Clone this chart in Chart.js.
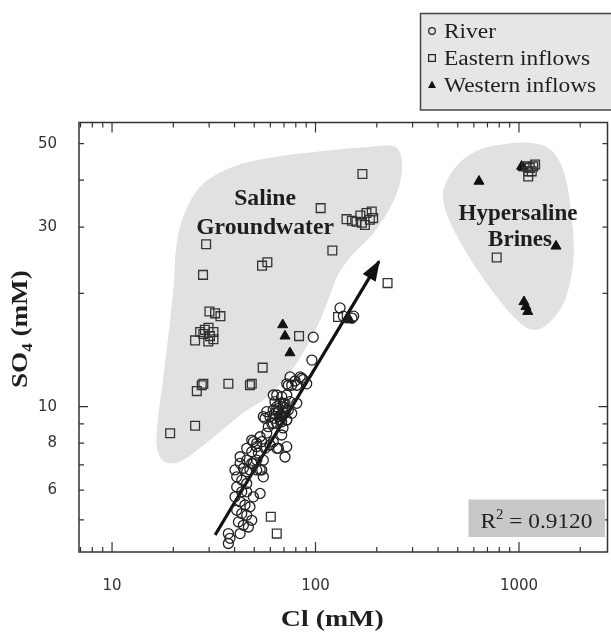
<!DOCTYPE html>
<html>
<head>
<meta charset="utf-8">
<script src="https://cdn.jsdelivr.net/npm/chart.js@4.4.1/dist/chart.umd.min.js"></script>
<style>
  html, body { margin: 0; padding: 0; background: #fff; }
</style>
</head>
<body>
<canvas id="chart" width="611" height="633"></canvas>
<script>
// River samples (Cl mM, SO4 mM)
var riverCl = [132, 137, 151, 154, 97.5, 96,
  75, 79.3, 84, 87, 73.5, 76.4, 80.9, 72.2, 85.5, 90.5,
  64.5, 68.2, 72.2, 63.2, 66.9, 70.8, 74.9, 59.7, 63.2, 66.9, 70.8, 73.5, 62.0, 65.7, 69.5,
  56.5, 60.9, 64.5, 68.2, 72.2, 58.6, 69.2, 66, 68, 71, 63, 67,
  64.5, 69.5, 76.4, 72.2, 62.0, 80.9, 55.4, 57.6, 62.0,
  57.6, 54.4, 51.4, 49.5, 48.6, 52.4, 56.5, 59.7, 62.0, 64.5,
  70.8, 65.7, 72.2, 68.2, 48.6, 51.4, 53.4, 45.9,
  42.6, 45.9, 48.6, 51.4, 54.4, 44.2, 47.6, 51.4, 55.4,
  42.6, 49.5, 55.4, 40.2, 45.9, 53.4,
  41.0, 43.4, 45.9, 41.0, 43.4, 45.9, 49.5, 53.4,
  40.2, 42.6, 45.0, 47.6, 41.0, 43.4, 45.9, 48.6, 41.8, 44.2, 46.8,
  37.3, 42.6, 37.3, 38.0];
var riverSO4 = [18.3, 17.4, 17.2, 17.4, 15.3, 13.3,
  12.0, 11.7, 12.0, 11.8, 11.4, 11.4, 11.4, 11.5, 11.9, 11.5,
  10.74, 10.63, 10.74, 10.31, 10.21, 10.21, 10.31, 9.41, 9.31, 9.41, 9.60, 9.80, 9.80, 9.70, 10.0,
  9.31, 9.03, 9.03, 9.12, 9.22, 8.85, 8.78, 9.9, 9.5, 9.95, 9.6, 9.2,
  10.0, 10.21, 9.60, 9.22, 9.03, 10.21, 9.41, 9.70, 10.74,
  8.51, 8.07, 7.83, 8.07, 7.59, 7.52, 7.75, 7.91, 8.07, 7.75,
  7.35, 7.75, 7.83, 8.41, 8.15, 7.99, 8.32, 7.75,
  7.36, 7.21, 7.07, 7.21, 6.79, 6.86, 6.79, 6.79, 6.51,
  7.07, 7.07, 7.21, 6.79, 6.72, 6.79,
  6.51, 6.38, 6.25, 6.12, 5.94, 5.94, 5.76, 5.88,
  5.76, 5.59, 5.48, 5.42, 5.31, 5.20, 5.15, 4.99, 4.94, 4.84, 4.79,
  4.60, 4.60, 4.33, 4.47];

// Eastern inflows
var easternCl = [170, 106, 142, 151, 159, 169, 175, 178, 189, 192, 185, 166, 121, 29, 28, 54.6, 58, 226,
  30.1, 32.1, 34.1, 25.6, 27.1, 28.6, 29.8, 31.5, 29.7, 31.5, 28.1, 30.3,
  83, 55, 129,
  26.1, 27.6, 28.1, 37.3, 47.6, 48.6,
  25.6, 19.3, 60.3, 64.5,
  1090, 1130, 1175, 1110, 1155, 1110, 1200, 777];
var easternSO4 = [41.5, 33.7, 31.5, 31.2, 31.0, 30.8, 30.4, 32.7, 33.0, 31.7, 31.4, 32.2, 26.0, 27.0, 22.4, 23.7, 24.2, 21.3,
  17.9, 17.7, 17.4, 15.0, 15.8, 16.0, 16.2, 15.8, 14.9, 15.1, 15.6, 15.4,
  15.4, 12.7, 17.3,
  11.0, 11.4, 11.5, 11.5, 11.4, 11.5,
  8.9, 8.5, 5.1, 4.6,
  43.5, 43.1, 43.5, 42.2, 42.2, 40.9, 44.0, 24.9];

// Western inflows
var westernCl = [69, 70.8, 74.9, 636, 1030, 1050, 1520, 1058, 1082, 1104, 147, 67];
var westernSO4 = [16.5, 15.4, 13.9, 39.7, 43.5, 43.1, 26.7, 19.0, 18.45, 17.9, 17.0, 9.45];

// trend arrow
var trendCl = [32.1, 205];
var trendSO4 = [4.56, 24.3];

// shaded fields
var salineCl = [27.1, 39.3, 64.7, 101.7, 165.5, 232.3, 260.1, 266.1, 254.3, 227.1, 189.5, 151.1, 129.0, 117.8,
  102.9, 88.8, 74.9, 57.8, 44.0, 30.3, 22.3, 18.2, 16.6, 16.8, 17.8, 19.3, 20.2, 20.6, 22.1];
var salineSO4 = [38.4, 43.4, 46.2, 47.6, 48.8, 49.4, 47.3, 42.6, 37.7, 33.0, 28.6, 25.3, 22.4, 19.8,
  16.5, 14.2, 12.3, 10.6, 9.62, 8.15, 7.21, 7.13, 7.81, 9.22, 11.8, 17.0, 21.7, 26.1, 31.4];
var brineCl = [423, 469, 574, 762, 1132, 1469, 1702, 1842, 1842, 1683, 1420, 1172, 955, 720, 561, 458];
var brineSO4 = [36.6, 42.1, 46.8, 49.4, 50.3, 47.6, 40.1, 29.5, 23.8, 19.2, 16.8, 16.0, 17.2, 20.7, 25.3, 31.0];

// axes
var xTickValues = [7, 8, 9, 10, 20, 30, 40, 50, 60, 70, 80, 90, 100, 200, 300, 400, 500, 600, 700, 800, 900, 1000, 2000];
var xTickLabels = [10, 100, 1000];
var yTickValues = [5, 6, 7, 8, 9, 10, 20, 30, 40, 50];
var yTickLabels = [6, 8, 10, 30, 50];
var xMajor = [10, 100, 1000];
var yMajor = [10];

var seriesNames = ['River', 'Eastern inflows', 'Western inflows'];
var rSquared = '0.9120';

function pts(xs, ys) {
  return xs.map(function(v, i) { return {x: v, y: ys[i]}; });
}

function smoothClosed(ctx, px, py) {
  var n = px.length;
  ctx.beginPath();
  ctx.moveTo(px[0], py[0]);
  for (var i = 0; i < n; i++) {
    var i0 = (i - 1 + n) % n, i2 = (i + 1) % n, i3 = (i + 2) % n;
    ctx.bezierCurveTo(
      px[i] + (px[i2] - px[i0]) / 6, py[i] + (py[i2] - py[i0]) / 6,
      px[i2] - (px[i3] - px[i]) / 6, py[i2] - (py[i3] - py[i]) / 6,
      px[i2], py[i2]);
  }
  ctx.closePath();
}

// draws text made of parts, stretched sideways like the original lettering
function richText(ctx, parts, x, y, size, weight, sx, align) {
  ctx.save();
  var fam = "'Liberation Serif', 'Times New Roman', serif";
  var w = 0;
  parts.forEach(function(p) {
    ctx.font = weight + ' ' + (p.sub || p.sup ? Math.round(size * 0.62) : size) + 'px ' + fam;
    p.w = ctx.measureText(p.t).width;
    w += p.w;
  });
  ctx.translate(align === 'center' ? x - w * sx / 2 : x, y);
  ctx.scale(sx, 1);
  ctx.textAlign = 'left';
  ctx.textBaseline = 'alphabetic';
  var cx = 0;
  parts.forEach(function(p) {
    ctx.font = weight + ' ' + (p.sub || p.sup ? Math.round(size * 0.62) : size) + 'px ' + fam;
    var dy = p.sub ? size * 0.22 : (p.sup ? -size * 0.4 : 0);
    ctx.fillText(p.t, cx, dy);
    cx += p.w;
  });
  ctx.restore();
}

function marker(ctx, style, x, y, r) {
  ctx.beginPath();
  if (style === 'circle') {
    ctx.arc(x, y, r, 0, Math.PI * 2);
    ctx.stroke();
  } else if (style === 'rect') {
    ctx.rect(x - r, y - r, 2 * r, 2 * r);
    ctx.stroke();
  } else {
    ctx.moveTo(x, y - r * 1.1);
    ctx.lineTo(x + r, y + r * 0.75);
    ctx.lineTo(x - r, y + r * 0.75);
    ctx.closePath();
    ctx.fill();
  }
}

var figurePlugin = {
  id: 'figure',
  beforeDatasetsDraw: function(chart) {
    var ctx = chart.ctx, xs = chart.scales.x, ys = chart.scales.y, a = chart.chartArea;
    ctx.save();
    ctx.beginPath();
    ctx.rect(a.left, a.top, a.right - a.left, a.bottom - a.top);
    ctx.clip();
    ctx.fillStyle = '#e1e1e1';
    smoothClosed(ctx, salineCl.map(function(v) { return xs.getPixelForValue(v); }),
      salineSO4.map(function(v) { return ys.getPixelForValue(v); }));
    ctx.fill();
    smoothClosed(ctx, brineCl.map(function(v) { return xs.getPixelForValue(v); }),
      brineSO4.map(function(v) { return ys.getPixelForValue(v); }));
    ctx.fill();
    ctx.restore();

    ctx.fillStyle = '#1e1e1e';
    richText(ctx, [{t: 'Saline'}], xs.getPixelForValue(56.5), ys.getPixelForValue(34.4), 23, 'bold', 1.03, 'center');
    richText(ctx, [{t: 'Groundwater'}], xs.getPixelForValue(56.5), ys.getPixelForValue(28.8), 23, 'bold', 1.03, 'center');
    richText(ctx, [{t: 'Hypersaline'}], xs.getPixelForValue(989), ys.getPixelForValue(31.3), 23, 'bold', 1.0, 'center');
    richText(ctx, [{t: 'Brines'}], xs.getPixelForValue(1012), ys.getPixelForValue(26.8), 23, 'bold', 1.0, 'center');
  },
  afterDatasetsDraw: function(chart) {
    var ctx = chart.ctx, a = chart.chartArea;
    var xs = chart.scales.x, ys = chart.scales.y;

    // arrow head on the trend line
    var meta = chart.getDatasetMeta(3).data;
    var p0 = meta[0], p1 = meta[1];
    var ang = Math.atan2(p1.y - p0.y, p1.x - p0.x);
    ctx.save();
    ctx.fillStyle = '#111';
    ctx.translate(p1.x, p1.y);
    ctx.rotate(ang);
    ctx.beginPath();
    ctx.moveTo(2, 0);
    ctx.lineTo(-19, -7.5);
    ctx.lineTo(-19, 7.5);
    ctx.closePath();
    ctx.fill();
    ctx.restore();

    // frame and inward ticks
    ctx.save();
    ctx.strokeStyle = '#333';
    ctx.lineWidth = 1.5;
    ctx.strokeRect(a.left, a.top, a.right - a.left, a.bottom - a.top);
    ctx.lineWidth = 1.2;
    ctx.beginPath();
    xTickValues.forEach(function(v) {
      var px = xs.getPixelForValue(v), len = xMajor.indexOf(v) >= 0 ? 10 : 5;
      ctx.moveTo(px, a.bottom); ctx.lineTo(px, a.bottom - len);
      ctx.moveTo(px, a.top); ctx.lineTo(px, a.top + len);
    });
    yTickValues.forEach(function(v) {
      var py = ys.getPixelForValue(v), len = yMajor.indexOf(v) >= 0 ? 9 : 5;
      ctx.moveTo(a.left, py); ctx.lineTo(a.left + len, py);
      ctx.moveTo(a.right, py); ctx.lineTo(a.right - len, py);
    });
    ctx.stroke();
    ctx.restore();

    // R squared box
    ctx.save();
    ctx.fillStyle = '#c8c8c8';
    ctx.fillRect(a.right - 139, a.bottom - 52.5, 136.5, 37.5);
    ctx.fillStyle = '#222';
    richText(ctx, [{t: 'R'}, {t: '2', sup: true}, {t: ' = ' + rSquared}], a.right - 127, a.bottom - 24.5, 22, 'normal', 1.06, 'left');
    ctx.restore();

    // legend
    ctx.save();
    ctx.fillStyle = '#e6e6e6';
    ctx.strokeStyle = '#444';
    ctx.lineWidth = 1.5;
    ctx.fillRect(420.5, 13.5, 200, 96.5);
    ctx.strokeRect(420.5, 13.5, 200, 96.5);
    var styles = ['circle', 'rect', 'triangle'];
    var sizes = [3.3, 3.4, 4];
    for (var i = 0; i < seriesNames.length; i++) {
      var cy = 31 + i * 27;
      ctx.strokeStyle = '#222';
      ctx.fillStyle = '#111';
      ctx.lineWidth = 1.2;
      marker(ctx, styles[i], 432, cy, sizes[i]);
      ctx.fillStyle = '#1e1e1e';
      richText(ctx, [{t: seriesNames[i]}], 444, cy + 6.5, 20, 'normal', 1.17, 'left');
    }
    ctx.restore();

    // axis titles
    ctx.save();
    ctx.fillStyle = '#1e1e1e';
    richText(ctx, [{t: 'Cl (mM)'}], (a.left + a.right) / 2 - 11, 626, 24, 'bold', 1.16, 'center');
    ctx.translate(27, 388);
    ctx.rotate(-Math.PI / 2);
    richText(ctx, [{t: 'SO'}, {t: '4', sub: true}, {t: ' (mM)'}], 0, 0, 24, 'bold', 1.13, 'left');
    ctx.restore();
  }
};

var tickFont = {family: "'DejaVu Sans', sans-serif", size: 15};

new Chart(document.getElementById('chart'), {
  type: 'scatter',
  data: {
    datasets: [
      {
        label: seriesNames[0],
        data: pts(riverCl, riverSO4),
        pointStyle: 'circle',
        pointRadius: 5,
        borderWidth: 1.3,
        borderColor: '#222',
        backgroundColor: 'rgba(0,0,0,0)'
      },
      {
        label: seriesNames[1],
        data: pts(easternCl, easternSO4),
        pointStyle: 'rect',
        pointRadius: 6.2,
        borderWidth: 1.3,
        borderColor: '#333',
        backgroundColor: 'rgba(0,0,0,0)'
      },
      {
        label: seriesNames[2],
        data: pts(westernCl, westernSO4),
        pointStyle: 'triangle',
        pointRadius: 5.8,
        borderWidth: 1,
        borderColor: '#111',
        backgroundColor: '#111'
      },
      {
        label: 'trend',
        data: pts(trendCl, trendSO4),
        showLine: true,
        pointRadius: 0,
        borderWidth: 3.2,
        borderColor: '#111',
        backgroundColor: '#111'
      }
    ]
  },
  options: {
    responsive: false,
    animation: false,
    devicePixelRatio: 1,
    layout: {autoPadding: false, padding: {left: 0, right: 3.5, top: 122.5, bottom: 0}},
    plugins: {legend: {display: false}, tooltip: {enabled: false}},
    scales: {
      x: {
        type: 'logarithmic',
        min: 6.88,
        max: 2723,
        grid: {display: false},
        border: {display: false},
        afterBuildTicks: function(s) { s.ticks = xTickValues.map(function(v) { return {value: v}; }); },
        afterFit: function(s) { s.height = 81; },
        ticks: {
          autoSkip: false, maxRotation: 0, minRotation: 0, padding: 17,
          color: '#333', font: tickFont,
          callback: function(v) { return xTickLabels.indexOf(v) >= 0 ? String(v) : ''; }
        }
      },
      y: {
        type: 'logarithmic',
        min: 4.11,
        max: 56.9,
        grid: {display: false},
        border: {display: false},
        afterBuildTicks: function(s) { s.ticks = yTickValues.map(function(v) { return {value: v}; }); },
        afterFit: function(s) { s.width = 79; },
        ticks: {
          autoSkip: false, padding: 14,
          color: '#333', font: tickFont,
          callback: function(v) { return yTickLabels.indexOf(v) >= 0 ? String(v) : ''; }
        }
      }
    }
  },
  plugins: [figurePlugin]
});
</script>
</body>
</html>
